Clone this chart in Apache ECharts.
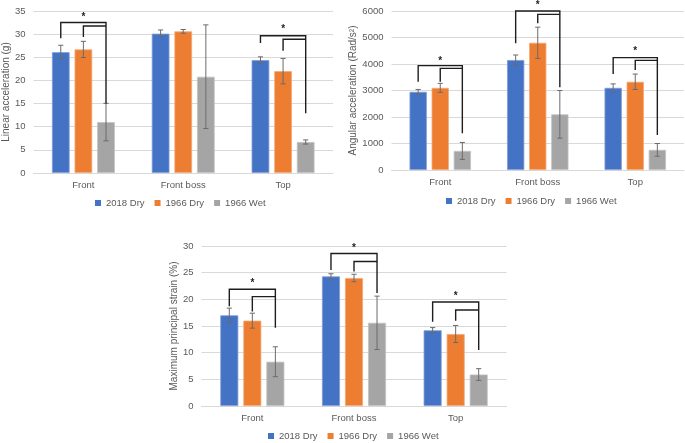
<!DOCTYPE html>
<html><head><meta charset="utf-8">
<script src="https://cdn.jsdelivr.net/npm/echarts@6.0.0/dist/echarts.min.js"></script>
<style>html,body{margin:0;padding:0;background:#fff}#c{width:685px;height:443px}</style>
</head><body><div id="c"></div>
<script>
// ---------- data ----------
const categories = ['Front', 'Front boss', 'Top'];
const seriesNames = ['2018 Dry', '1966 Dry', '1966 Wet'];

// Linear acceleration (g)
const linDry2018 = [26.1, 30.1, 24.4];
const linDry1966 = [26.7, 30.6, 22.0];
const linWet1966 = [11.0, 20.8, 6.7];
const linErrDry2018 = [1.5, 0.8, 0.7];
const linErrDry1966 = [1.75, 0.4, 2.75];
const linErrWet1966 = [4.05, 11.2, 0.45];
// bracket: [category, outerLevel, innerLevel, leftFoot, midFoot, rightFoot, starLevel]
const linBrackets = [
  [0, 32.5, 31.75, 29.1, 29.4, 15.0, 34.0],
  [2, 29.65, 28.9, 28.1, 26.4, 12.9, 31.4]
];

// Angular acceleration (Rad/s²)
const angDry2018 = [2950, 4150, 3100];
const angDry1966 = [3100, 4800, 3330];
const angWet1966 = [720, 2100, 760];
const angErrDry2018 = [90, 190, 150];
const angErrDry1966 = [170, 590, 290];
const angErrWet1966 = [320, 900, 240];
const angBrackets = [
  [0, 3937, 3836, 3333, 3333, 1384, 4190],
  [1, 6000, 5874, 4780, 5535, 3120, 6290],
  [2, 4239, 4138, 3623, 3774, 1321, 4553]
];

// Maximum principal strain (%)
const strDry2018 = [17.0, 24.3, 14.2];
const strDry1966 = [16.0, 24.0, 13.5];
const strWet1966 = [8.3, 15.6, 5.9];
const strErrDry2018 = [1.35, 0.5, 0.5];
const strErrDry1966 = [1.4, 0.7, 1.6];
const strErrWet1966 = [2.8, 5.0, 1.1];
const strBrackets = [
  [0, 21.9, 20.5, 18.7, 17.7, 14.65, 23.3],
  [1, 28.6, 27.1, 25.5, 25.2, 21.2, 30.0],
  [2, 19.5, 18.0, 15.8, 16.0, 10.5, 20.9]
];

// ---------- styling ----------
const COLORS = ['#4472C4', '#ED7D31', '#A5A5A5'];
const BORDERS = ['#7f9cd6', '#f3a877', '#c3c3c3'];
const TXT = '#595959';
const GRIDC = '#d9d9d9';
const CAT_GAP = 0.37;
const BAR_GAP = 0.28;
const FONT = 'Liberation Sans';

function barStep(api) {
  const band = api.size([1, 0])[0];
  const bw = band * (1 - CAT_GAP) / (3 + 2 * BAR_GAP);
  return bw * (1 + BAR_GAP);
}

function errRender(params, api) {
  const cat = api.value(0), s = api.value(1), lo = api.value(2), hi = api.value(3);
  const step = barStep(api);
  const cx = api.coord([cat, 0])[0] + (s - 1) * step;
  const y1 = api.coord([cat, lo])[1], y2 = api.coord([cat, hi])[1];
  const cap = 2.6;
  const st = { stroke: '#6b6b6b', lineWidth: 1 };
  return { type: 'group', children: [
    { type: 'line', shape: { x1: cx, y1: y1, x2: cx, y2: y2 }, style: st },
    { type: 'line', shape: { x1: cx - cap, y1: y1, x2: cx + cap, y2: y1 }, style: st },
    { type: 'line', shape: { x1: cx - cap, y1: y2, x2: cx + cap, y2: y2 }, style: st }
  ]};
}

function bracketRender(params, api) {
  const cat = api.value(0);
  const outer = api.value(1), inner = api.value(2);
  const fL = api.value(3), fM = api.value(4), fR = api.value(5), star = api.value(6);
  const step = barStep(api);
  const c = api.coord([cat, 0])[0];
  const xL = c - step, xM = c, xR = c + step;
  const Y = v => api.coord([cat, v])[1];
  const st = { stroke: '#1e1e1e', lineWidth: 1.4, fill: null };
  return { type: 'group', children: [
    { type: 'polyline', shape: { points: [[xL, Y(fL)], [xL, Y(outer)], [xR, Y(outer)], [xR, Y(fR)]] }, style: st },
    { type: 'polyline', shape: { points: [[xM, Y(fM)], [xM, Y(inner)], [xR, Y(inner)]] }, style: st },
    { type: 'text', x: (xL + xR) / 2, y: Y(star) + 2, style: { text: '*', fill: '#1e1e1e', font: 'bold 10px ' + FONT, align: 'center', verticalAlign: 'middle' } }
  ]};
}

function errData(vals, errs, s) {
  return categories.map((c, i) => [i, s, vals[i] - errs[i], vals[i] + errs[i]]);
}

function chartSeries(idx, vals, errs, brackets) {
  const out = [];
  vals.forEach((v, s) => {
    out.push({
      type: 'bar', name: seriesNames[s], xAxisIndex: idx, yAxisIndex: idx,
      data: v, barCategoryGap: (CAT_GAP * 100) + '%', barGap: (BAR_GAP * 100) + '%',
      itemStyle: { color: COLORS[s], borderColor: BORDERS[s], borderWidth: 0.8 }, silent: true
    });
  });
  vals.forEach((v, s) => {
    out.push({
      type: 'custom', xAxisIndex: idx, yAxisIndex: idx, renderItem: errRender,
      data: errData(v, errs[s], s), encode: { x: 0, y: [2, 3] }, z: 5, silent: true
    });
  });
  out.push({
    type: 'custom', xAxisIndex: idx, yAxisIndex: idx, renderItem: bracketRender,
    data: brackets, encode: { x: 0, y: [1, 6] }, z: 6, clip: false, silent: true
  });
  return out;
}

function xAx(idx) {
  return {
    type: 'category', gridIndex: idx, data: categories,
    axisLine: { lineStyle: { color: GRIDC } }, axisTick: { show: false },
    axisLabel: { color: TXT, fontSize: 9.5, fontFamily: FONT, margin: 7 }
  };
}
function yAx(idx, name, max, interval, gap) {
  return {
    type: 'value', gridIndex: idx, min: 0, max: max, interval: interval,
    name: name, nameLocation: 'middle', nameGap: gap,
    nameTextStyle: { color: TXT, fontSize: 10, fontFamily: FONT },
    axisLine: { show: false }, axisTick: { show: false },
    splitLine: { lineStyle: { color: GRIDC } },
    axisLabel: { color: TXT, fontSize: 9.5, fontFamily: FONT, margin: 8, formatter: v => String(v) }
  };
}
function leg(left, top) {
  return {
    data: seriesNames, left: left, top: top, icon: 'rect', itemWidth: 6, itemHeight: 6,
    itemGap: 10, itemStyle: { borderWidth: 0 },
    textStyle: { color: TXT, fontSize: 9.5, fontFamily: FONT }
  };
}

const chart = echarts.init(document.getElementById('c'), null, { renderer: 'canvas' });
chart.setOption({
  animation: false,
  backgroundColor: '#fff',
  grid: [
    { left: 32, top: 11, width: 301, height: 162 },
    { left: 391.5, top: 11, width: 292.5, height: 159 },
    { left: 201.5, top: 246, width: 305, height: 160 }
  ],
  xAxis: [xAx(0), xAx(1), xAx(2)],
  yAxis: [
    yAx(0, 'Linear acceleration (g)', 35, 5, 20),
    yAx(1, 'Angular acceleration (Rad/s²)', 6000, 1000, 32),
    yAx(2, 'Maximum principal strain (%)', 30, 5, 20)
  ],
  legend: [leg(90, 193), leg(441, 191), leg(263, 426)],
  series: [].concat(
    chartSeries(0, [linDry2018, linDry1966, linWet1966], [linErrDry2018, linErrDry1966, linErrWet1966], linBrackets),
    chartSeries(1, [angDry2018, angDry1966, angWet1966], [angErrDry2018, angErrDry1966, angErrWet1966], angBrackets),
    chartSeries(2, [strDry2018, strDry1966, strWet1966], [strErrDry2018, strErrDry1966, strErrWet1966], strBrackets)
  )
});
</script>
</body></html>
